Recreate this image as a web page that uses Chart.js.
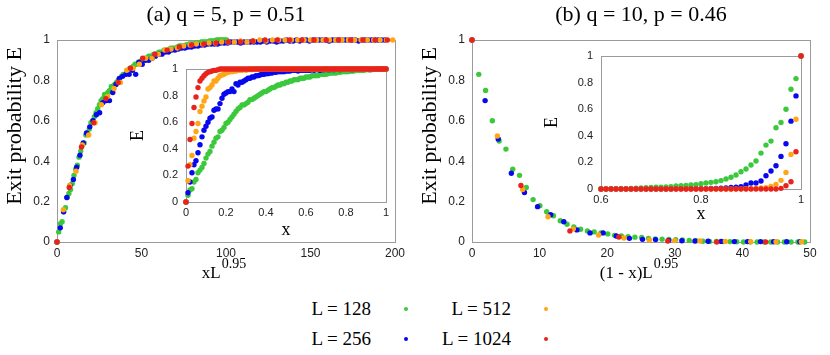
<!DOCTYPE html>
<html lang="en">
<head>
<meta charset="UTF-8">
<title>Exit probability</title>
<script src="https://cdn.jsdelivr.net/npm/chart.js@4"></script>
<style>
  body { margin: 0; background: #fff; width: 830px; height: 355px; position: relative; overflow: hidden; }
  canvas { position: absolute; }
  #mainA { left: 0; top: 0; }
  #mainB { left: 415px; top: 0; }
  #insetA { left: 125px; top: 60px; }
  #insetB { left: 540px; top: 47px; }
  .keyName { position: absolute; width: 100px; height: 22px; line-height: 22px; text-align: right;
             font-family: "Liberation Serif", serif; font-size: 19px; color: #000; white-space: nowrap; }
  .keyDot { position: absolute; width: 4px; height: 4px; border-radius: 50%; }
</style>
</head>
<body>
<canvas id="mainA" width="415" height="290"></canvas>
<canvas id="mainB" width="415" height="290"></canvas>
<canvas id="insetA" width="266" height="185"></canvas>
<canvas id="insetB" width="266" height="185"></canvas>
<script>
// system sizes and legend names
const sizes = [128, 256, 512, 1024];
const seriesNames = ['L = 128', 'L = 256', 'L = 512', 'L = 1024'];
const seriesColors = ['#3cc83c', '#0808ee', '#ffa516', '#e8231c'];
const exponent = 0.95;
const xStep = 0.01;

// (a) q = 5, p = 0.51 : E at x = 0, 0.01, ..., 1
const xStartA = 0;
const eA128 = [0, .05, .09, .10, .15, .17, .22, .24, .26, .29,
  .33, .36, .38, .42, .45, .48, .49, .53, .54, .56,
  .59, .60, .62, .64, .66, .68, .70, .71, .73, .73,
  .74, .75, .77, .77, .78, .79, .80, .81, .82, .83,
  .83, .84, .85, .86, .86, .87, .88, .88, .89, .89,
  .90, .90, .91, .91, .92, .92, .92, .93, .93, .93,
  .94, .94, .94, .95, .95, .95, .95, .96, .96, .96,
  .96, .965, .97, .97, .97, .97, .975, .975, .98, .98,
  .98, .98, .985, .985, .985, .99, .99, .99, .99, .99,
  .995, .995, .995, .995, 1, 1, 1, 1, 1, 1,
  1];
const eA256 = [0, .07, .15, .22, .28, .31, .37, .43, .49, .54,
  .57, .60, .63, .64, .69, .70, .70, .74, .78, .81,
  .82, .83, .83, .85, .83, .89, .88, .90, .90, .91,
  .92, .93, .93, .94, .94, .95, .95, .955, .96, .96,
  .965, .965, .97, .97, .975, .975, .98, .98, .98, .98,
  .985, .985, .985, .99, .99, .99, .985, .99, .99, .99,
  .99, .99, .99, .995, .99, .995, .995, .99, .995, .995,
  1, .995, .995, 1, .995, 1, 1, .995, 1, 1,
  1, 1, 1, .995, 1, 1, 1, 1, 1, 1,
  1, 1, .995, 1, 1, 1, 1, 1, 1, 1,
  1];
const eA512 = [0, .16, .28, .35, .48, .53, .59, .68, .72, .76,
  .79, .85, .86, .88, .91, .91, .93, .95, .955, .96,
  .97, .975, .98, .98, .985, .985, .99, .99, .99, .995,
  .99, .995, 1, .995, 1, 1, 1, 1, 1, 1,
  1, 1, 1, 1, 1, 1, 1, 1, 1, 1,
  1, 1, 1, 1, 1, 1, 1, 1, 1, 1,
  1, 1, 1, 1, 1, 1, 1, 1, 1, 1,
  1, 1, 1, 1, 1, 1, 1, 1, 1, 1,
  1, 1, 1, 1, 1, 1, 1, 1, 1, 1,
  1, 1, 1, 1, 1, 1, 1, 1, 1, 1,
  1];
const eA1024 = [0, .27, .47, .59, .71, .79, .86, .91, .93, .95,
  .965, .975, .98, .985, .99, .99, .995, 1, 1, 1,
  1, 1, 1, 1, 1, 1, 1, 1, 1, 1,
  1, 1, 1, 1, 1, 1, 1, 1, 1, 1,
  1, 1, 1, 1, 1, 1, 1, 1, 1, 1,
  1, 1, 1, 1, 1, 1, 1, 1, 1, 1,
  1, 1, 1, 1, 1, 1, 1, 1, 1, 1,
  1, 1, 1, 1, 1, 1, 1, 1, 1, 1,
  1, 1, 1, 1, 1, 1, 1, 1, 1, 1,
  1, 1, 1, 1, 1, 1, 1, 1, 1, 1,
  1];

// (b) q = 10, p = 0.46 : E at x = 0.50, 0.51, ..., 1
const xStartB = 0.5;
const eB128 = [0, 0, 0, 0, 0, 0, 0, 0, 0, 0,
  0, .001, .002, .002, .003, .003, .004, .006, .008, .01,
  .012, .013, .014, .015, .018, .022, .024, .026, .03, .033,
  .04, .045, .05, .055, .063, .075, .088, .105, .13, .15,
  .18, .21, .27, .33, .36, .46, .50, .60, .75, .83,
  1];
const eB256 = [0, 0, 0, 0, 0, 0, 0, 0, 0, 0,
  0, 0, 0, 0, 0, 0, 0, 0, 0, 0,
  0, 0, 0, 0, 0, .001, .001, .001, .002, .002,
  .002, .003, .004, .005, .006, .008, .012, .013, .018, .03,
  .045, .045, .06, .10, .135, .175, .245, .34, .51, .70,
  1];
const eB512 = [0, 0, 0, 0, 0, 0, 0, 0, 0, 0,
  0, 0, 0, 0, 0, 0, 0, 0, 0, 0,
  0, 0, 0, 0, 0, 0, 0, 0, 0, 0,
  0, 0, 0, 0, 0, 0, 0, .001, .001, .002,
  .003, .005, .007, .01, .02, .035, .065, .125, .26, .525,
  1];
const eB1024 = [0, 0, 0, 0, 0, 0, 0, 0, 0, 0,
  0, 0, 0, 0, 0, 0, 0, 0, 0, 0,
  0, 0, 0, 0, 0, 0, 0, 0, 0, 0,
  0, 0, 0, 0, 0, 0, 0, 0, 0, 0,
  0, 0, 0, 0, 0, 0, .005, .025, .055, .28,
  1];

// tick labels
const ticksE = [0, 0.2, 0.4, 0.6, 0.8, 1];
const ticksMainA = [0, 50, 100, 150, 200];
const ticksInsetA = [0, 0.2, 0.4, 0.6, 0.8, 1];
const ticksMainB = [0, 10, 20, 30, 40, 50];
const ticksInsetB = [0.6, 0.8, 1];

const seriesA = [eA128, eA256, eA512, eA1024];
const seriesB = [eB128, eB256, eB512, eB1024];

// x for the i-th value, or the scaled variable shown on the main panels
function toPoints(values, x0, L, mode, xMin, xMax) {
  const k = Math.pow(L, exponent);
  return values.map((e, i) => {
    const x = Math.round((x0 + i * xStep) * 100) / 100;
    let px = x;
    if (mode === 'scaled') px = x * k;
    if (mode === 'reflected') px = (1 - x) * k;
    return { x: px, y: e };
  }).filter(p => p.x >= xMin - 1e-9 && p.x <= xMax + 1e-9);
}

function makeDatasets(series, x0, mode, xMin, xMax) {
  return series.map((vals, i) => ({
    label: seriesNames[i],
    data: toPoints(vals, x0, sizes[i], mode, xMin, xMax),
    backgroundColor: seriesColors[i],
    pointRadius: 2.7,
    pointBorderWidth: 0,
    pointHoverRadius: 2.7,
    showLine: false,
    clip: false,
    order: 3 - i
  }));
}

function axis(min, max, tickValues, fontSize, pad, boxSize, title) {
  return {
    type: 'linear', min: min, max: max,
    grid: { display: false, drawTicks: false },
    border: { display: false },
    ticks: {
      font: { family: 'Liberation Sans', size: fontSize }, color: '#222', padding: pad,
      maxRotation: 0, autoSkip: false,
      callback: v => String(Number(v.toFixed(2)))
    },
    title: title || { display: false },
    afterBuildTicks: s => { s.ticks = tickValues.map(v => ({ value: v })); },
    afterFit: s => {
      if (s.isHorizontal()) s.height = boxSize; else s.width = boxSize;
      s.paddingLeft = 0; s.paddingRight = 0; s.paddingTop = 0; s.paddingBottom = 0;
    }
  };
}

// grey box round the plot area
const framePlugin = {
  id: 'frame',
  beforeDatasetsDraw(chart) {
    const { ctx, chartArea: a } = chart;
    ctx.save();
    ctx.strokeStyle = '#9a9a9a';
    ctx.lineWidth = 1;
    ctx.strokeRect(Math.round(a.left) + 0.5, Math.round(a.top) + 0.5,
      Math.round(a.right - a.left), Math.round(a.bottom - a.top));
    ctx.restore();
  }
};

// axis titles of the main panels (x title has a superscript)
const axisTextPlugin = {
  id: 'axisText',
  afterDraw(chart, args, o) {
    if (!o || !o.x) return;
    const { ctx, chartArea: a } = chart;
    ctx.save();
    ctx.fillStyle = '#000';
    const base = '17px "Liberation Serif"';
    const sup = '14px "Liberation Serif"';
    ctx.font = base;
    const w1 = ctx.measureText(o.x).width;
    ctx.font = sup;
    const w2 = ctx.measureText(o.sup).width;
    const x0 = (a.left + a.right) / 2 + o.dx - (w1 + w2 + 1) / 2;
    ctx.textAlign = 'left';
    ctx.textBaseline = 'alphabetic';
    ctx.font = base;
    ctx.fillText(o.x, x0, a.bottom + 36);
    ctx.font = sup;
    ctx.fillText(o.sup, x0 + w1 + 1, a.bottom + 26);
    ctx.translate(o.yX, (a.top + a.bottom) / 2 + o.yDy);
    ctx.rotate(-Math.PI / 2);
    ctx.font = '22px "Liberation Serif"';
    ctx.textAlign = 'center';
    ctx.textBaseline = 'middle';
    ctx.fillText(o.y, 0, 0);
    ctx.restore();
  }
};

function mainChart(id, datasets, xMax, xTicks, titleText, xText) {
  return new Chart(document.getElementById(id), {
    type: 'scatter',
    data: { datasets: datasets },
    plugins: [framePlugin, axisTextPlugin],
    options: {
      responsive: false,
      animation: false,
      layout: { padding: { left: 0, right: 20, top: 0, bottom: 0 } },
      scales: {
        x: axis(0, xMax, xTicks, 12, 4, 48),
        y: axis(0, 1, ticksE, 12, 7, 57)
      },
      plugins: {
        legend: { display: false },
        tooltip: { enabled: false },
        title: {
          display: true, text: titleText, color: '#000', fullSize: false,
          font: { family: 'Liberation Serif', size: 22, weight: 'normal', lineHeight: 1 },
          padding: { top: 4, bottom: 14 }
        },
        axisText: { x: xText, sup: '0.95', dx: -2, y: 'Exit probability E', yX: 15, yDy: -15 }
      }
    }
  });
}

function insetChart(id, datasets, xMin, xTicks, xTitlePad, yTitlePad) {
  const labelFont = { family: 'Liberation Serif', size: 18, lineHeight: 1 };
  return new Chart(document.getElementById(id), {
    type: 'scatter',
    data: { datasets: datasets },
    plugins: [framePlugin],
    options: {
      responsive: false,
      animation: false,
      layout: { padding: { left: 0, right: 5, top: 9, bottom: 3 } },
      scales: {
        x: axis(xMin, 1, xTicks, 11, 4, 40,
          { display: true, text: 'x', color: '#000', font: labelFont, padding: { top: 0, bottom: xTitlePad } }),
        y: axis(0, 1, ticksE, 11, 8, 61,
          { display: true, text: 'E', color: '#000', font: labelFont, padding: { top: yTitlePad, bottom: 0 } })
      },
      plugins: { legend: { display: false }, tooltip: { enabled: false } }
    }
  });
}

mainChart('mainA', makeDatasets(seriesA, xStartA, 'scaled', 0, 200), 200, ticksMainA,
  '(a) q = 5, p = 0.51', 'xL');
mainChart('mainB', makeDatasets(seriesB, xStartB, 'reflected', 0, 50), 50, ticksMainB,
  '(b) q = 10, p = 0.46', '(1 - x)L');
insetChart('insetA', makeDatasets(seriesA, xStartA, 'plain', 0, 1), 0, ticksInsetA, 3, 4);
insetChart('insetB', makeDatasets(seriesB, xStartB, 'plain', 0.6, 1), 0.6, ticksInsetB, 6, 3.5);

// legend: two columns, name then marker
seriesNames.forEach((name, i) => {
  const col = Math.floor(i / 2), row = i % 2;
  const cy = 309 + row * 30;
  const label = document.createElement('div');
  label.className = 'keyName';
  label.textContent = name;
  label.style.left = (271 + col * 140) + 'px';
  label.style.top = (cy - 11) + 'px';
  document.body.appendChild(label);
  const dot = document.createElement('div');
  dot.className = 'keyDot';
  dot.style.background = seriesColors[i];
  dot.style.left = (404 + col * 140) + 'px';
  dot.style.top = (cy - 2) + 'px';
  document.body.appendChild(dot);
});
</script>
</body>
</html>
